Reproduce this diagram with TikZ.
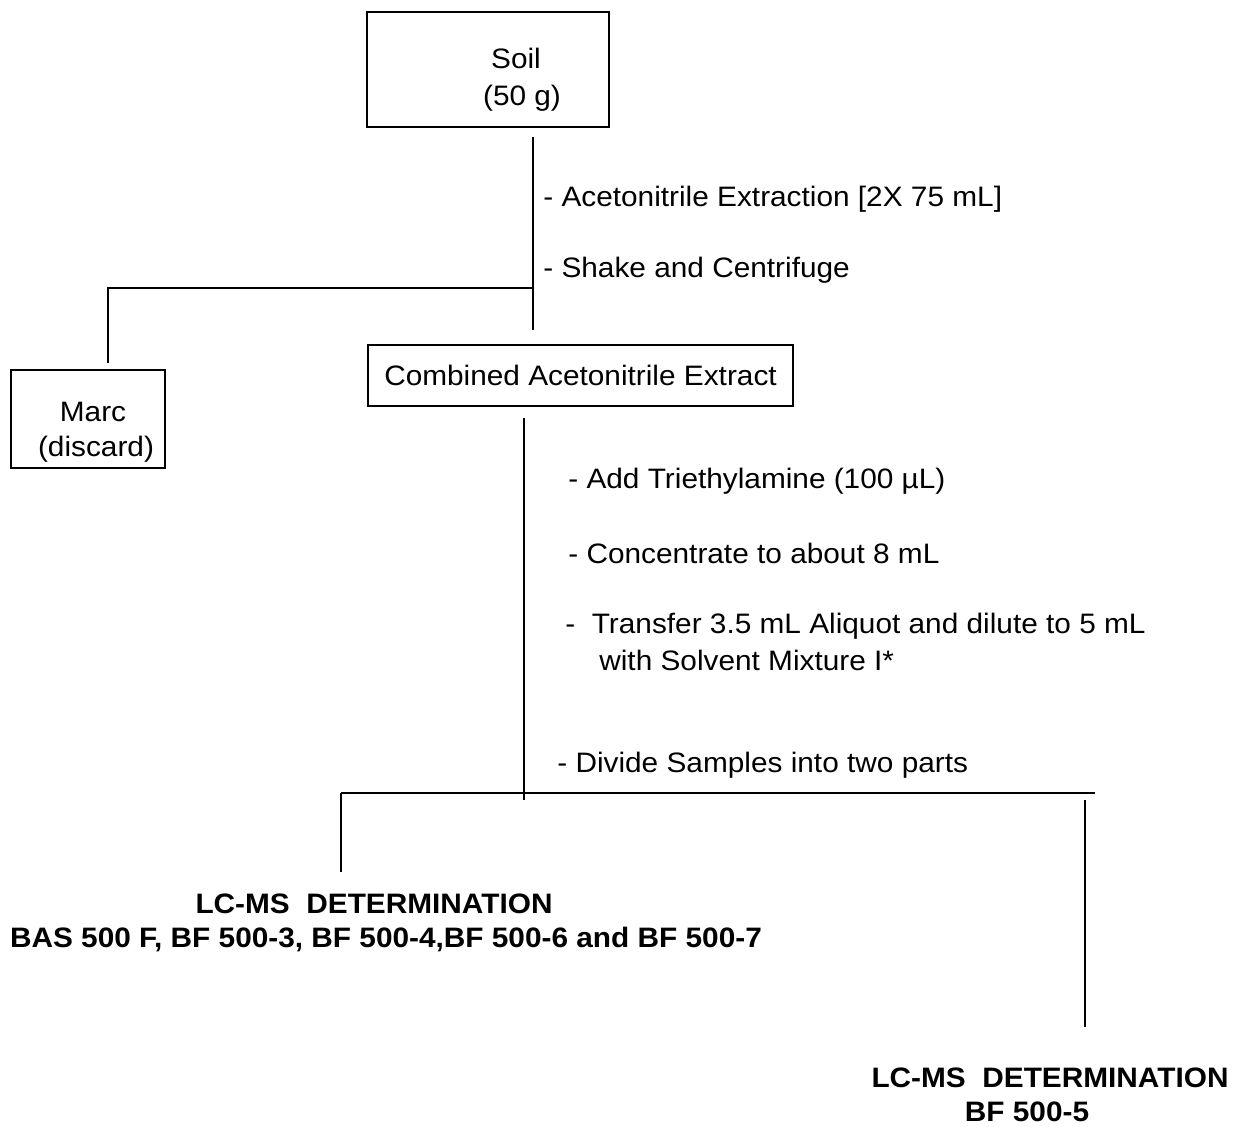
\documentclass[tikz,border=0pt]{standalone}
\usepackage{fontspec}
\setmainfont{Liberation Sans}[FakeStretch=1.06]
\usetikzlibrary{positioning}
\tikzset{
        block/.style = {draw, rectangle, line width=0.8pt,
            align=center, inner sep=0pt},
        link/.style = {draw, line width=1.1pt},
        steptext/.style = {anchor=west, inner sep=0pt, align=left},
        result/.style = {align=center, inner sep=0pt,
            font=\bfseries\fontsize{16}{19.3}\selectfont},
    }

\begin{document}
\begin{tikzpicture}[x=0.02cm, y=-0.02cm, font=\fontsize{16}{21}\selectfont]
		\useasboundingbox (0,0) rectangle (1234,1126);
		% boxes
		\node[block, minimum width=4.84cm, minimum height=2.3cm]  (Soil)     at (488,69.5)  {\rule{0pt}{0.8cm}\hspace*{1.12cm}Soil\\\hspace*{1.36cm}(50 g)};
		\node[block, minimum width=8.5cm, minimum height=1.22cm]  (Combined) at (580.5,375.5) {Combined Acetonitrile Extract};
		\node[block, minimum width=3.08cm, minimum height=1.96cm] (Marc)     at (88,419)    {\rule{0pt}{0.9cm}\hspace*{0.2cm}Marc\\[-1pt]\hspace*{0.32cm}(discard)};
		% extraction steps
		\node[steptext] (Extraction) at (543,199) {- Acetonitrile Extraction [2X 75 mL]};
		\node[steptext] (Shake)      at (543,270) {- Shake and Centrifuge};
		\node[steptext] (Triethyl)   at (568,481) {- Add Triethylamine (100 µL)};
		\node[steptext] (Concentrate) at (568,553) {- Concentrate to about 8 mL};
		\node[steptext] (Transfer)   at (565,642) {-\ \ Transfer 3.5 mL Aliquot and dilute to 5 mL\\\hspace*{0.68cm}with Solvent Mixture I*};
		\node[steptext] (Divide)     at (557,765) {- Divide Samples into two parts};
		% results
		\node[result] (ResultA) at (386,923) {LC-MS\ \ DETERMINATION\hspace*{0.48cm}\\BAS 500 F, BF 500-3, BF 500-4,BF 500-6 and BF 500-7};
		\node[result] (ResultB) at (1050,1095) {LC-MS\ \ DETERMINATION\\BF 500-5\hspace*{0.92cm}};
		% connectors
		\coordinate (SoilOut)  at (533,137);
		\coordinate (Split)    at (533,288);
		\coordinate (SoilEnd)  at (533,330);
		\coordinate (MarcIn)   at (108,363);
		\coordinate (CombOut)  at (524,418);
		\coordinate (CombEnd)  at (524,800);
		\coordinate (PartL)    at (341,793);
		\coordinate (PartR)    at (1095,793);
		\coordinate (PartLEnd) at (341,872);
		\coordinate (PartRTop) at (1085,800);
		\coordinate (PartREnd) at (1085,1027);
		\path[link] (SoilOut) -- (SoilEnd);
		\path[link] (Split) -| (MarcIn);
		\path[link] (CombOut) -- (CombEnd);
		\path[link] (PartL) -- (PartR);
		\path[link] (PartL) -- (PartLEnd);
		\path[link] (PartRTop) -- (PartREnd);
\end{tikzpicture}
\end{document}
